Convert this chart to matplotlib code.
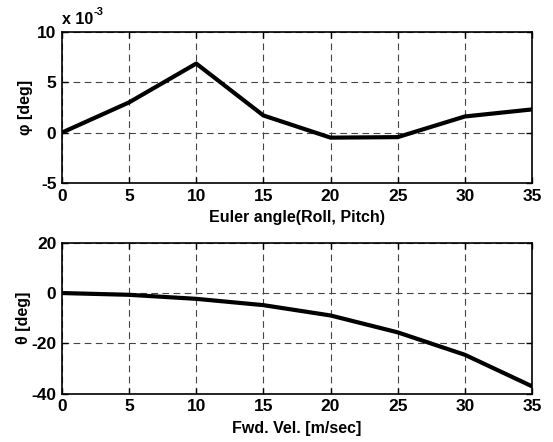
import numpy as np
import matplotlib
matplotlib.use('Agg')
import matplotlib.pyplot as plt

plt.rcParams['font.family'] = ['Liberation Sans', 'DejaVu Sans']
plt.rcParams['font.weight'] = 'bold'
plt.rcParams['font.size'] = 11
plt.rcParams['axes.unicode_minus'] = False

# data
vel = [0, 5, 10, 15, 20, 25, 30, 35]
phi_e3 = [0.0, 3.0, 6.85, 1.7, -0.5, -0.45, 1.6, 2.3]     # x 1e-3 deg
theta = [0.0, -0.7, -2.3, -4.8, -8.9, -15.6, -24.5, -37.0]  # deg

fig = plt.figure(figsize=(5.53, 4.42), dpi=100)
ax1 = fig.add_axes([0.112, 0.586, 0.850, 0.342])
ax2 = fig.add_axes([0.112, 0.109, 0.850, 0.342])


def style(ax):
    ax.grid(True, color='#444444', linestyle=(0, (6, 4)), linewidth=0.8)
    ax.tick_params(direction='in', top=True, right=True, length=4, width=1,
                   labelsize=12.5, pad=4)
    for s in ax.spines.values():
        s.set_linewidth(1.2)
    ax.set_xlim(0, 35)
    ax.set_xticks(vel)


ax1.plot(vel, phi_e3, color='black', linewidth=3)
style(ax1)
ax1.set_ylim(-5, 10)
ax1.set_yticks([-5, 0, 5, 10])
ax1.set_ylabel('φ [deg]', fontweight='bold', fontsize=11.5, labelpad=3)
ax1.set_xlabel('Euler angle(Roll, Pitch)', fontweight='bold', fontsize=11.5,
               labelpad=5)
# offset text drawn by hand, MATLAB style
ax1.text(0.0, 1.03, 'x 10', transform=ax1.transAxes,
         fontsize=11.5, fontweight='bold', ha='left', va='bottom')
ax1.text(0.068, 1.10, '-3', transform=ax1.transAxes,
         fontsize=8, fontweight='bold', ha='left', va='bottom')

ax2.plot(vel, theta, color='black', linewidth=3)
style(ax2)
ax2.set_ylim(-40, 20)
ax2.set_yticks([-40, -20, 0, 20])
ax2.set_ylabel('θ [deg]', fontweight='bold', fontsize=11.5, labelpad=0)
ax2.set_xlabel('Fwd. Vel. [m/sec]', fontweight='bold', fontsize=11.5,
               labelpad=5)

fig.savefig('out.png', dpi=100)
